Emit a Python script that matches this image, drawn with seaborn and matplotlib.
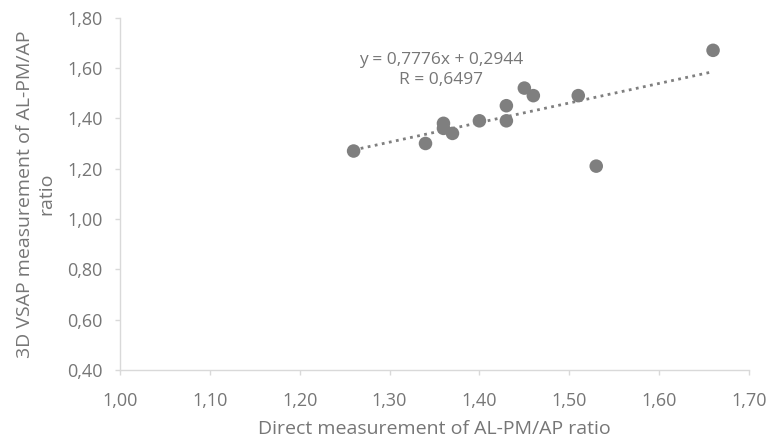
import numpy as np
import pandas as pd
import seaborn as sns
import matplotlib.pyplot as plt
from matplotlib.ticker import FuncFormatter

sns.set_style("white")
plt.rcParams['font.family'] = ['Open Sans', 'DejaVu Sans']

# data
direct = [1.26, 1.34, 1.36, 1.36, 1.37, 1.40, 1.43, 1.43, 1.45, 1.46, 1.51, 1.53, 1.66]
vsap = [1.27, 1.30, 1.38, 1.36, 1.34, 1.39, 1.45, 1.39, 1.52, 1.49, 1.49, 1.21, 1.67]
slope = 0.7776
intercept = 0.2944
r_value = 0.6497

df = pd.DataFrame({"direct": direct, "vsap": vsap})
text_col = "#767676"

fig = plt.figure(figsize=(7.69, 4.40), dpi=100)
ax = fig.add_axes([0.156, 0.159, 0.818, 0.801])

# trendline from the printed equation, over the data range
xs = np.array([min(direct), max(direct)])
ax.plot(xs, slope * xs + intercept, linestyle=(0, (1, 1.6)), color="#7f7f7f", linewidth=2.0, zorder=1)

sns.scatterplot(data=df, x="direct", y="vsap", ax=ax, color="#7f7f7f", s=95,
                edgecolor="none", zorder=2)

eq = f"y = {slope:.4f}x + {intercept:.4f}\nR = {r_value:.4f}".replace(".", ",")
ax.text(1.357, 1.592, eq, ha="center", va="center", fontsize=12.5, color=text_col, linespacing=1.4)

ax.set_xlim(1.0, 1.7)
ax.set_ylim(0.4, 1.8)
ax.set_xticks(np.arange(1.0, 1.71, 0.1))
ax.set_yticks(np.arange(0.4, 1.81, 0.2))
comma = FuncFormatter(lambda v, p: f"{v:.2f}".replace(".", ","))
ax.xaxis.set_major_formatter(comma)
ax.yaxis.set_major_formatter(comma)

ax.set_xlabel("Direct measurement of AL-PM/AP ratio", fontsize=14, color=text_col)
ax.set_ylabel("3D VSAP measurement of AL-PM/AP\nratio", fontsize=14, color=text_col,
              multialignment="center")
ax.xaxis.set_label_coords(0.5, -0.167)
ax.yaxis.set_label_coords(-0.134, 0.5)
ax.xaxis.label.set_va("center")
ax.yaxis.label.set_va("center")

for side in ["top", "right"]:
    ax.spines[side].set_visible(False)
for side in ["left", "bottom"]:
    ax.spines[side].set_color("#d9d9d9")
    ax.spines[side].set_linewidth(1.0)

ax.tick_params(axis="both", which="major", length=3.6, width=1, color="#d9d9d9",
               labelsize=13, labelcolor=text_col, direction="out", bottom=True, left=True)
ax.tick_params(axis="x", pad=12)
ax.tick_params(axis="y", pad=9)
ax.grid(False)

fig.savefig("out.png", dpi=100)
